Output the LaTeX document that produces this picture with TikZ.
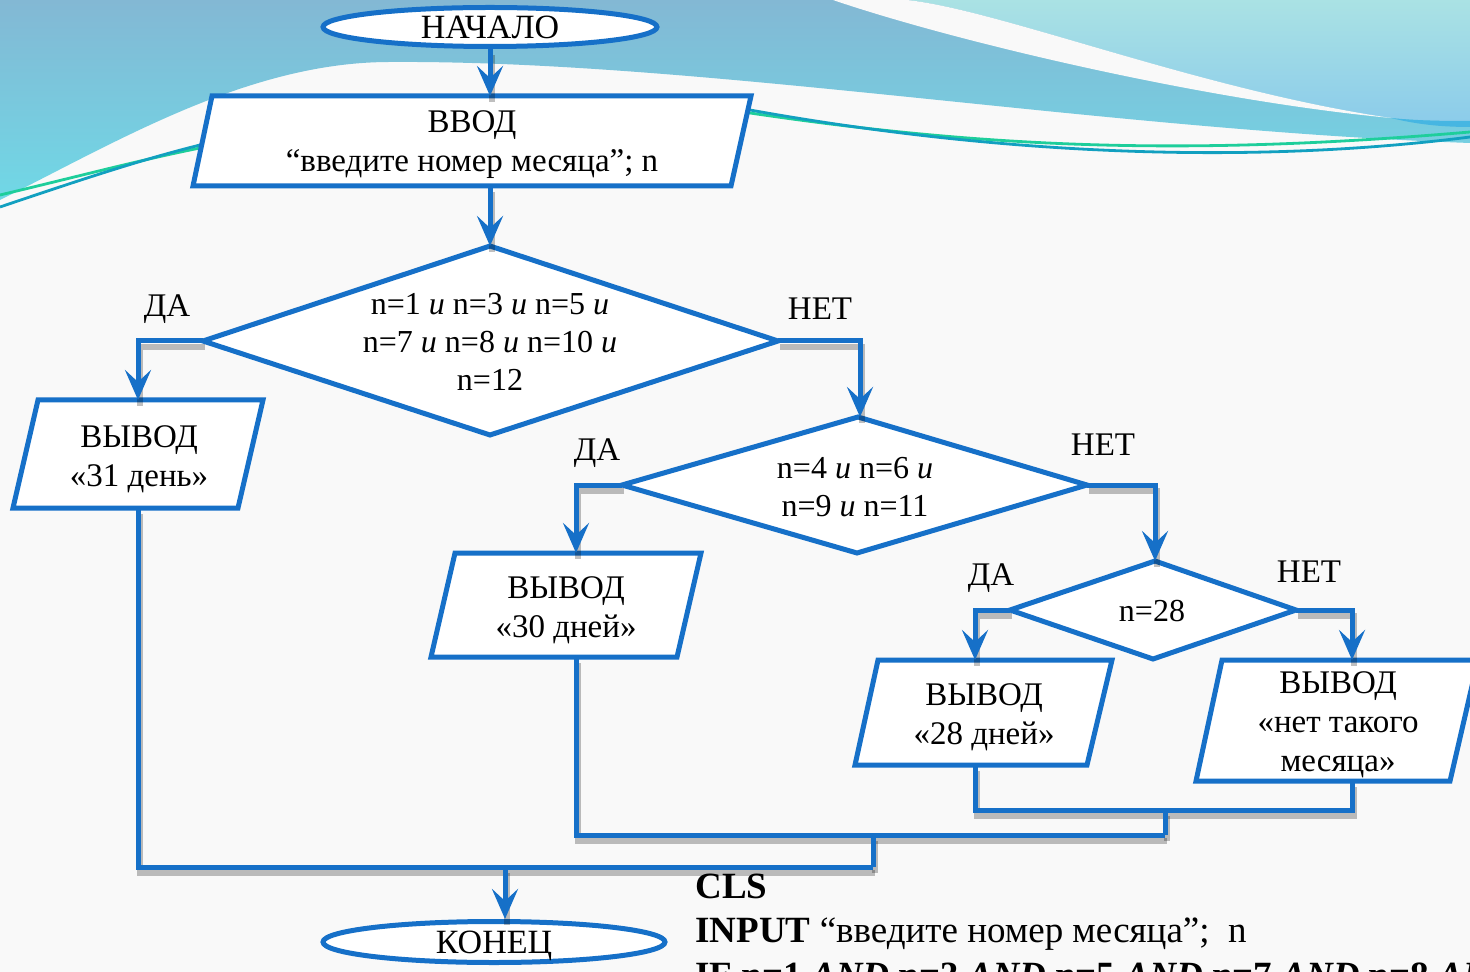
\documentclass[tikz,border=0pt]{standalone}
\usepackage{fontspec}
\setmainfont{Liberation Serif}
\usetikzlibrary{arrows.meta,shapes.geometric}
\definecolor{fblue}{RGB}{22,112,200}
\definecolor{skyA}{RGB}{131,184,212}
\definecolor{skyB}{RGB}{112,216,230}
\definecolor{paleA}{RGB}{170,226,228}
\definecolor{paleB}{RGB}{140,204,234}
\definecolor{deepS}{RGB}{70,182,226}
\definecolor{lgreen}{RGB}{30,206,155}
\definecolor{lteal}{RGB}{18,160,192}
\definecolor{paper}{RGB}{249,249,249}
\begin{document}
\begin{tikzpicture}[x=0.5pt,y=-0.5pt,
  outline/.style={draw=fblue,line width=2.5pt,fill=white,line join=miter},
  txt/.style={align=center,inner sep=0pt,font=\fontsize{16.5}{19.5}\selectfont},
  cond/.style={align=center,inner sep=0pt,font=\fontsize{16}{19}\selectfont},
  lbl/.style={inner sep=0pt,font=\fontsize{16.5}{19}\selectfont},
  code/.style={anchor=base west,inner sep=0pt,font=\fontsize{18.5}{22}\selectfont},
  shad/.style={preaction={draw=black,draw opacity=0.25,line width=3pt,arrows=-,transform canvas={shift={(1pt,-3pt)}}}},
  wire/.style={draw=fblue,line width=2.5pt,line join=miter,shad},
  flow/.style={wire,-{Stealth[length=15pt,width=13pt,inset=6pt]}},
  terminal/.style={ellipse,draw=fblue,line width=2.5pt,fill=white,inner sep=0pt,text depth=0pt,font=\fontsize{17}{19}\selectfont}
]
\useasboundingbox (0,0) rectangle (1470,972);
\begin{scope}
\clip (0,0) rectangle (1470,972);
% ---------- background ----------
\fill[paper] (0,0) rectangle (1470,972);
\shade[top color=skyA,bottom color=skyB] (0,0) -- (1470,0) -- (1470,143)
  .. controls (1100,130) and (700,60) .. (390,62)
  .. controls (250,62) and (120,140) .. (0,200) -- cycle;
\shade[top color=paleA,bottom color=paleB] (907,0) .. controls (1000,10) and (1200,90) .. (1391,118)
  .. controls (1420,121) and (1450,121) .. (1470,121) -- (1470,0) -- cycle;
\fill[deepS] (1391,118) .. controls (1420,121) and (1450,121) .. (1470,121) -- (1470,127)
  .. controls (1440,127) and (1415,124) .. (1391,118) -- cycle;
\fill[paper] (833,0) .. controls (950,40) and (1200,100) .. (1391,118)
  .. controls (1200,90) and (1000,10) .. (907,0) -- cycle;
\draw[lgreen,line width=1.4pt] (0,195) .. controls (80,176) and (140,160) .. (200,148) -- (750,113)
  .. controls (1000,150) and (1200,155) .. (1470,132);
\draw[lteal,line width=1.4pt] (0,207) .. controls (80,180) and (140,160) .. (200,145) -- (750,110)
  .. controls (1000,155) and (1250,165) .. (1470,137);

% ---------- shapes ----------
\node[terminal,minimum width=167pt,minimum height=19.5pt] (start) at (490,27) {НАЧАЛО};

\draw[outline] (212,96) -- (751,96) -- (731,186) -- (193,186) -- cycle;
\node[txt] (inp) at (472,145) {ВВОД\\“введите номер месяца”; n};
\coordinate (inpT) at (490,96);
\coordinate (inpB) at (490,186);

\draw[outline] (490,246) -- (778,341) -- (490,435) -- (203,341) -- cycle;
\node[cond] (c1) at (490,342) {n=1 \textit{и} n=3 \textit{и} n=5 \textit{и}\\n=7 \textit{и} n=8 \textit{и} n=10 \textit{и}\\n=12};
\coordinate (d1T) at (490,246);
\coordinate (d1L) at (203,341);
\coordinate (d1R) at (778,341);

\draw[outline] (38,400) -- (263,400) -- (238,508) -- (13,508) -- cycle;
\node[txt] (o31) at (139,459) {ВЫВОД\\«31 день»};
\coordinate (b31T) at (138,400);
\coordinate (b31B) at (138,508);

\draw[outline] (858,417) -- (1087,485) -- (857,553) -- (622,485) -- cycle;
\node[cond] (c2) at (855,487) {n=4 \textit{и} n=6 \textit{и}\\n=9 \textit{и} n=11};
\coordinate (d2T) at (860,417);
\coordinate (d2L) at (622,485);
\coordinate (d2R) at (1087,485);

\draw[outline] (455,553) -- (701,553) -- (677,657) -- (431,657) -- cycle;
\node[txt] (o30) at (566,610) {ВЫВОД\\«30 дней»};
\coordinate (b30T) at (576,553);
\coordinate (b30B) at (576,657);

\draw[outline] (1155,561) -- (1296,610) -- (1153,659) -- (1010,610) -- cycle;
\node[cond] (c3) at (1152,611) {n=28};
\coordinate (d3T) at (1155,561);
\coordinate (d3L) at (1010,610);
\coordinate (d3R) at (1296,610);

\draw[outline] (878,660) -- (1112,660) -- (1087,765) -- (855,765) -- cycle;
\node[txt] (o28) at (984,717) {ВЫВОД\\«28 дней»};
\coordinate (b28T) at (975,660);
\coordinate (b28B) at (975,765);

\draw[outline] (1222,660) -- (1478,660) -- (1450,781) -- (1196,781) -- cycle;
\node[txt] (onone) at (1338,725) {ВЫВОД\\«нет такого\\месяца»};
\coordinate (bnT) at (1352,660);
\coordinate (bnB) at (1352,781);

\node[terminal,minimum width=171pt,minimum height=20.5pt] (fin) at (494,942) {КОНЕЦ};

% ---------- labels ----------
\node[lbl] (yes1) at (167,309) {ДА};
\node[lbl] (no1) at (820,309) {НЕТ};
\node[lbl] (yes2) at (597,453) {ДА};
\node[lbl] (no2) at (1103,445) {НЕТ};
\node[lbl] (yes3) at (991,578) {ДА};
\node[lbl] (no3) at (1309,572) {НЕТ};

% ---------- connectors ----------
\draw[flow] (start.south) -- (inpT);
\draw[flow] (inpB) -- (d1T);
\draw[flow] (d1L) -- (d1L -| b31T) -- (b31T);
\draw[flow] (d1R) -- (d1R -| d2T) -- (d2T);
\draw[flow] (d2L) -- (d2L -| b30T) -- (b30T);
\draw[flow] (d2R) -- (d2R -| d3T) -- (d3T);
\draw[flow] (d3L) -- (d3L -| b28T) -- (b28T);
\draw[flow] (d3R) -- (d3R -| bnT) -- (bnT);

\coordinate (j1) at (1165,810);
\coordinate (j2) at (1165,835);
\coordinate (j3) at (873,835);
\coordinate (j4) at (873,867);
\coordinate (j5) at (505,867);
\draw[wire] (b28B) -- (b28B |- j1) -- (bnB |- j1) -- (bnB);
\draw[wire] (j1) -- (j2);
\draw[wire] (b30B) -- (b30B |- j2) -- (j2);
\draw[wire] (j3) -- (j4);
\draw[wire] (b31B) -- (b31B |- j4) -- (j4);
\draw[flow] (j5) -- (j5 |- fin.north);

% ---------- code ----------
\node[code] (cls) at (695,898) {\textbf{CLS}};
\node[code] (inpc) at (695,942) {\textbf{INPUT} “введите номер месяца”;\ \ n};
\node[code] (ifc) at (695,987) {\textbf{IF n=1 \textit{AND} n=3 \textit{AND} n=5 \textit{AND} n=7 \textit{AND} n=8 \textit{AND}}};
\end{scope}
\end{tikzpicture}
\end{document}
